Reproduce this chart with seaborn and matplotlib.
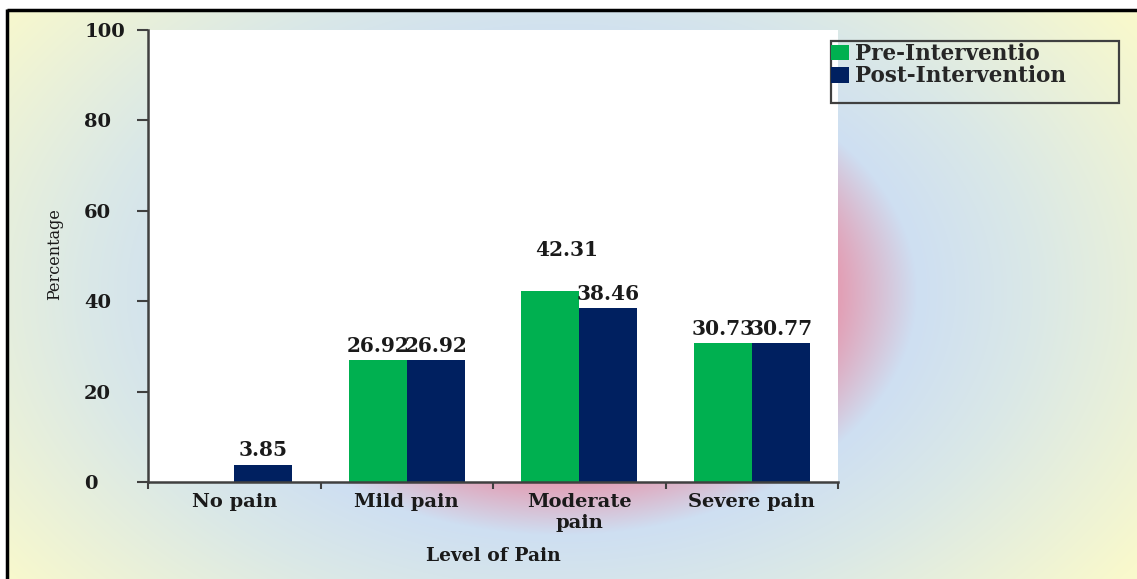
import numpy as np
import pandas as pd
import matplotlib
matplotlib.use("Agg")
import matplotlib.pyplot as plt
from matplotlib.patches import Patch, Rectangle
from matplotlib.lines import Line2D
from matplotlib.font_manager import FontProperties
import seaborn as sns

# ---- data ----
categories = ["No pain", "Mild pain", "Moderate\npain", "Severe pain"]
series_names = ["Pre-Interventio", "Post-Intervention"]
pre_values = [0.00, 26.92, 42.31, 30.73]
post_values = [3.85, 26.92, 38.46, 30.77]
y_ticks = [0, 20, 40, 60, 80, 100]
x_title = "Level of Pain"
y_title = "Percentage"

colors = ["#00B050", "#002060"]

df = pd.DataFrame({
    "level": categories * 2,
    "group": [series_names[0]] * len(categories) + [series_names[1]] * len(categories),
    "value": pre_values + post_values,
})

sns.set_theme(style="white")
plt.rcParams["font.family"] = ["DejaVu Serif"]

W, H = 1137, 579
fig = plt.figure(figsize=(W / 100, H / 100), dpi=100, facecolor="white")

# ---- soft radial backdrop behind the chart ----
bg = fig.add_axes([0, 0, 1, 1])
bg.axis("off")
yy, xx = np.mgrid[0:H, 0:W]
r = np.hypot((xx - 560) / 350.0, (yy - 292) / 238.0)
stops = [0.0, 0.80, 1.02, 1.35, 2.0]
rgb = np.array([
    [226, 160, 182],
    [226, 160, 182],
    [206, 223, 242],
    [218, 232, 231],
    [249, 249, 204],
]) / 255.0
img = np.dstack([np.interp(r, stops, rgb[:, c]) for c in range(3)])
bg.imshow(img[10:, 7:], extent=(7, W, H, 10), aspect="auto", interpolation="bilinear")
bg.add_line(Line2D([7, W], [10, 10], color="black", lw=2.5, solid_capstyle="butt"))
bg.add_line(Line2D([7, 7], [9, H], color="black", lw=2.5, solid_capstyle="butt"))
bg.set_xlim(0, W)
bg.set_ylim(H, 0)

# ---- main bar chart ----
ax = fig.add_axes([148 / W, 1 - 482 / H, 690 / W, 452 / H])
ax.set_facecolor("white")
sns.barplot(data=df, x="level", y="value", hue="group", palette=colors,
            width=0.67, saturation=1, errorbar=None, legend=False, ax=ax,
            linewidth=0, zorder=2)

ax.set_xlim(-0.5, 3.5)
ax.set_ylim(0, 100)
ax.set_yticks(y_ticks)

for side in ["top", "right"]:
    ax.spines[side].set_visible(False)
for side in ["left", "bottom"]:
    ax.spines[side].set_color("#404040")
    ax.spines[side].set_linewidth(1.8)

tick_fp = FontProperties(family="DejaVu Serif", weight="bold", size=14)

ax.tick_params(axis="y", which="major", direction="out", length=8, width=1.5,
               color="#404040", pad=38, left=True)
for t in ax.get_yticklabels():
    t.set_ha("left")
    t.set_fontproperties(tick_fp)
    t.set_color("#1a1a1a")

ax.set_xticks(range(len(categories)))
ax.set_xticklabels(categories, fontproperties=tick_fp, color="#1a1a1a",
                   linespacing=1.2)
ax.set_xticks(np.arange(-0.5, len(categories), 1.0), minor=True)
ax.tick_params(axis="x", which="major", length=0, pad=8)
ax.tick_params(axis="x", which="minor", direction="out", length=5, width=1.5,
               color="#404040", bottom=True)

ax.set_xlabel(x_title, family="DejaVu Serif", weight="bold", size=13.5, color="#1a1a1a")
ax.xaxis.set_label_coords(0.5, -0.143)
ax.set_ylabel(y_title, family="DejaVu Serif", size=11.5, color="#1a1a1a")
ax.yaxis.set_label_coords(-0.123, 0.505)

# value labels above the bars
for cont, vals in zip(ax.containers, [pre_values, post_values]):
    labels = [f"{v:.2f}" if v > 0 else "" for v in vals]
    anns = ax.bar_label(cont, labels=labels, padding=3, zorder=5,
                        family="DejaVu Serif", weight="bold", size=14.5,
                        color="#1a1a1a")
    if vals is pre_values:
        # the Moderate pre label sits raised and nudged right
        anns[2].xyann = (12, 22)

# ---- legend ----
handles = [Patch(facecolor=c, edgecolor="none") for c in colors]
fig.legend(handles, series_names, loc="upper left",
           bbox_to_anchor=(831 / W, 1 - 43 / H), frameon=False,
           prop=dict(family="DejaVu Serif", weight="bold", size=15.5),
           handlelength=0.85, handleheight=0.72, handletextpad=0.28,
           labelspacing=0.02, borderpad=0, borderaxespad=0)
fig.add_artist(Rectangle((831 / W, 1 - 103 / H), 288 / W, 62 / H,
                         transform=fig.transFigure, fill=False,
                         edgecolor="#404040", lw=1.6))

fig.savefig("out.png", dpi=100, facecolor=fig.get_facecolor())
